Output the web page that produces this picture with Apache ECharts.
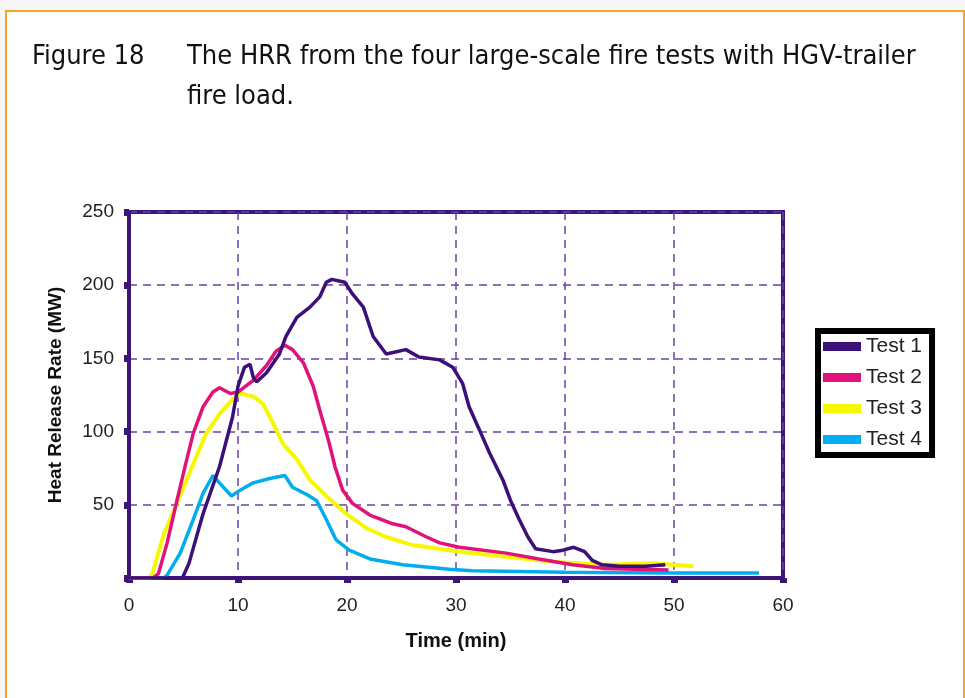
<!DOCTYPE html>
<html>
<head>
<meta charset="utf-8">
<script src="https://cdn.jsdelivr.net/npm/echarts@6/dist/echarts.min.js"></script>
<style>
  body { margin: 0; background: #f7f7f7; }
  .frame {
    position: absolute; left: 5px; top: 10px; width: 956px; height: 700px;
    background: #fff; border: 2px solid #f5a623;
  }
  .ecc { position: absolute; left: 0; top: 0; width: 965px; height: 698px; }
</style>
</head>
<body>
<div class="frame"></div>
<div class="ecc" id="ecc"></div>
<script>
// time (min) and HRR (MW)
var test1Time = [0, 4.9, 5.5, 6.8, 8.3, 9.5, 10.0, 10.6, 11.1, 11.4, 11.7, 12.6, 13.8, 14.4, 15.4, 16.6, 17.5, 18.1, 18.6, 19.8, 20.5, 21.5, 22.4, 23.6, 25.4, 26.6, 28.5, 29.7, 30.6, 31.2, 32.1, 33.1, 34.3, 35.0, 35.8, 36.6, 37.3, 38.9, 39.8, 40.8, 41.8, 42.5, 43.4, 45.0, 47.4, 49.2];
var test1Hrr  = [0, 0, 10, 44, 76, 110, 131, 144, 146, 137, 134, 140, 153, 165, 178, 185, 192, 202, 204, 202, 194, 185, 165, 153, 156, 151, 149, 144, 133, 117, 102, 85, 67, 53, 40, 28, 20, 18, 19, 21, 18, 12, 9, 8, 8, 9];

var test2Time = [0, 2.2, 2.7, 3.5, 4.4, 5.3, 5.9, 6.8, 7.7, 8.3, 9.3, 10.0, 11.4, 12.6, 13.5, 14.3, 15.0, 16.0, 16.9, 17.6, 18.3, 18.9, 19.6, 20.5, 22.1, 24.2, 25.4, 27.3, 28.5, 30.3, 34.6, 37.6, 40.7, 43.7, 49.5];
var test2Hrr  = [0, 0, 3, 24, 53, 81, 99, 117, 127, 130, 126, 127, 135, 145, 155, 159, 156, 147, 131, 112, 94, 76, 60, 51, 43, 37, 35, 28, 24, 21, 17, 13, 9, 6.5, 5.5];

var test3Time = [0, 1.8, 2.1, 3.2, 4.4, 5.9, 7.1, 8.3, 9.5, 10.2, 11.4, 12.3, 13.2, 14.1, 15.4, 16.6, 18.1, 19.9, 21.8, 23.6, 26.0, 29.4, 30.3, 34.6, 39.2, 43.7, 48.0, 51.8];
var test3Hrr  = [0, 0, 2, 30, 51, 78, 99, 112, 122, 126, 124, 119, 106, 92, 81, 67, 56, 44, 34, 28, 22.5, 19, 18, 14.5, 11, 9, 10, 8];

var test4Time = [0, 3.2, 3.5, 4.7, 5.9, 6.8, 7.7, 8.3, 9.4, 10.2, 11.4, 12.9, 14.3, 15.0, 16.3, 17.2, 18.1, 19.0, 20.2, 22.1, 25.1, 29.4, 31.5, 40, 50, 57.8];
var test4Hrr  = [0, 0, 2, 17, 40, 58, 70, 65, 56, 60, 65, 68, 70, 62, 57, 53, 40, 26, 19, 13, 9, 6, 5, 4, 3.5, 3.5];

var seriesNames = ["Test 1", "Test 2", "Test 3", "Test 4"];
var xTicks = [0, 10, 20, 30, 40, 50, 60];
var yTicks = [0, 50, 100, 150, 200, 250];

function pairs(t, v) {
  return t.map(function (x, i) { return [x, v[i]]; });
}

var frameColor = "#3b1578";
var gridColor = "#6a42a8";
var titleFont = { fontFamily: "DejaVu Sans Condensed", fontWeight: "normal", fontSize: 27, color: "#111", lineHeight: 40 };

var myecharts = echarts.init(document.getElementById("ecc"));
myecharts.setOption({
  animation: false,
  title: [
    { text: "Figure 18", left: 27, top: 32, textStyle: titleFont },
    {
      text: "The HRR from the four large-scale fire tests with HGV-trailer\nfire load.",
      left: 182,
      top: 32,
      textStyle: titleFont,
    },
  ],
  legend: {
    orient: "vertical",
    left: 818,
    top: 331,
    padding: [5, 10, 5, 5],
    borderColor: "#000",
    borderWidth: 6,
    backgroundColor: "#fff",
    icon: "rect",
    itemWidth: 38,
    itemHeight: 9,
    itemGap: 10,
    textStyle: { fontFamily: "Liberation Sans", fontSize: 21, color: "#222" },
    data: seriesNames,
  },
  grid: {
    left: 129,
    top: 212,
    width: 654,
    height: 366,
    show: true,
    borderColor: frameColor,
    borderWidth: 4,
    backgroundColor: "transparent",
  },
  xAxis: {
    type: "value",
    min: xTicks[0],
    max: xTicks[xTicks.length - 1],
    interval: 10,
    name: "Time (min)",
    nameLocation: "middle",
    nameGap: 53,
    nameTextStyle: { fontFamily: "Liberation Sans", fontWeight: "bold", fontSize: 20, color: "#111" },
    axisLine: { show: true, lineStyle: { color: frameColor, width: 4 } },
    axisTick: { show: true, length: 5, lineStyle: { color: frameColor, width: 7 } },
    axisLabel: { margin: 18, fontFamily: "Liberation Sans", fontSize: 19, color: "#222" },
    splitLine: { show: true, lineStyle: { color: gridColor, width: 1.5, type: [8, 6] } },
  },
  yAxis: {
    type: "value",
    min: yTicks[0],
    max: yTicks[yTicks.length - 1],
    interval: 50,
    name: "Heat Release Rate (MW)",
    nameLocation: "middle",
    nameGap: 64,
    nameTextStyle: { fontFamily: "Liberation Sans", fontWeight: "bold", fontSize: 19, color: "#111" },
    axisLine: { show: true, lineStyle: { color: frameColor, width: 4 } },
    axisTick: { show: true, length: 5, lineStyle: { color: frameColor, width: 7 } },
    axisLabel: {
      margin: 15,
      fontFamily: "Liberation Sans",
      fontSize: 19,
      color: "#222",
      formatter: function (v) { return v === 0 ? "" : v; },
    },
    splitLine: { show: true, lineStyle: { color: gridColor, width: 1.5, type: [8, 6] } },
  },
  series: [
    { name: seriesNames[0], type: "line", showSymbol: false, color: "#3b1078", lineStyle: { width: 3.5 }, data: pairs(test1Time, test1Hrr), z: 4 },
    { name: seriesNames[1], type: "line", showSymbol: false, color: "#e0137b", lineStyle: { width: 3.5 }, data: pairs(test2Time, test2Hrr), z: 3 },
    { name: seriesNames[2], type: "line", showSymbol: false, color: "#f7f700", lineStyle: { width: 4 }, data: pairs(test3Time, test3Hrr), z: 2 },
    { name: seriesNames[3], type: "line", showSymbol: false, color: "#00aeef", lineStyle: { width: 3.5 }, data: pairs(test4Time, test4Hrr), z: 1 },
  ],
});
</script>
</body>
</html>
